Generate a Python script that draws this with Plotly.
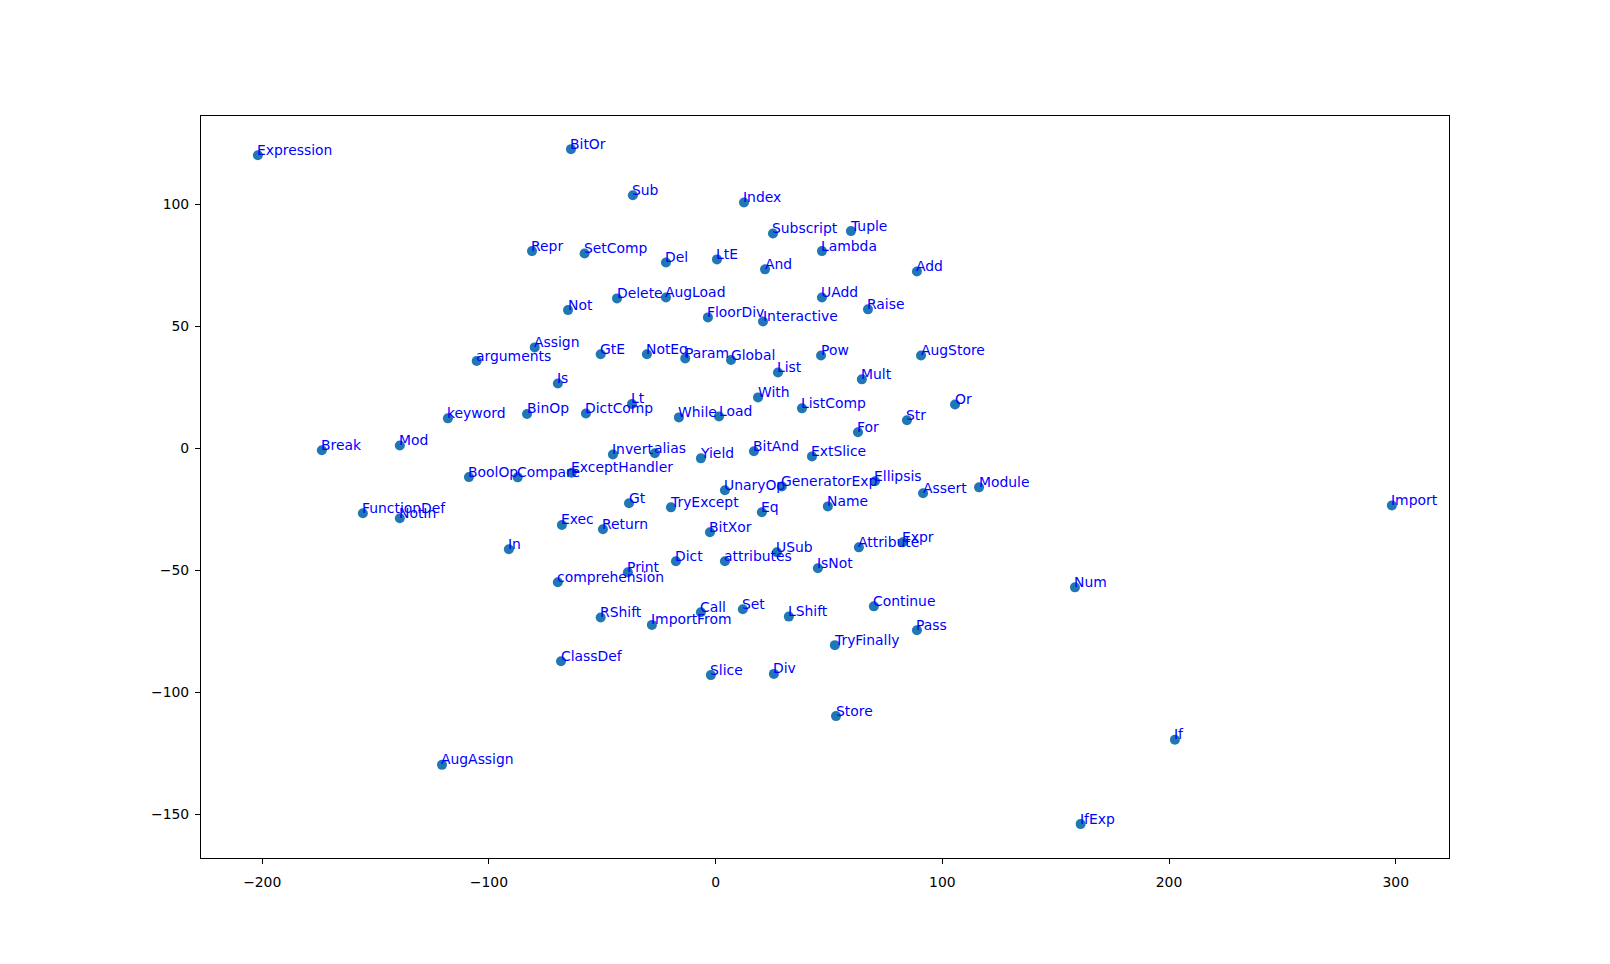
import plotly.graph_objects as go

labels = ["Expression", "BitOr", "Repr", "SetComp", "Delete", "Not", "Assign", "GtE", "arguments",
          "Sub", "Index", "Subscript", "Tuple", "Lambda", "Del", "LtE", "And", "Add", "AugLoad",
          "UAdd", "Raise", "FloorDiv", "Interactive", "NotEq", "Param", "Global", "Pow", "AugStore",
          "List", "Mult", "With", "Lt", "ListComp", "While", "Load", "Or", "Str", "For", "Invert",
          "alias", "Yield", "BitAnd", "ExtSlice", "UnaryOp", "GeneratorExp", "Ellipsis", "Assert",
          "Module", "Gt", "TryExcept", "Eq", "Name", "BitXor", "Attribute", "Expr", "USub", "Dict",
          "attributes", "IsNot", "Print", "Call", "Set", "LShift", "Continue",
          "Is", "keyword", "BinOp", "DictComp", "Break", "Mod", "BoolOp", "Compare", "ExceptHandler",
          "FunctionDef", "NotIn", "Exec", "Return", "In", "comprehension", "RShift",
          "ClassDef", "AugAssign", "ImportFrom", "Pass", "TryFinally", "Slice", "Div", "Store",
          "Import", "Num", "If", "IfExp"]

x_vals = [-201.9, -63.8, -81.0, -57.8, -43.5, -65.1, -79.8, -50.7, -105.4,
          -36.5, 12.5, 25.3, 59.7, 46.9, -21.9, 0.6, 21.8, 88.8, -21.9,
          46.9, 67.2, -3.4, 20.9, -30.3, -13.4, 6.8, 46.5, 90.6,
          27.5, 64.5, 18.7, -36.9, 38.1, -16.2, 1.5, 105.6, 84.4, 62.8, -45.3,
          -26.8, -6.5, 16.9, 42.5, 4.1, 29.2, 70.3, 91.5,
          116.2, -38.2, -19.7, 20.4, 49.5, -2.5, 63.2, 82.6, 27.0, -17.5,
          4.1, 45.1, -38.7, -6.5, 12.0, 32.3, 69.8,
          -69.6, -118.1, -83.2, -57.2, -173.7, -139.3, -108.8, -87.3, -63.5,
          -155.6, -139.3, -67.8, -49.7, -91.2, -69.6, -50.7,
          -68.2, -120.7, -28.1, 88.8, 52.6, -2.1, 25.7, 53.1,
          298.3, 158.5, 202.6, 161.0]

y_vals = [120.2, 122.7, 80.9, 79.9, 61.5, 56.7, 41.4, 38.6, 35.8,
          103.8, 100.8, 88.1, 89.1, 80.9, 76.2, 77.5, 73.4, 72.5, 61.9,
          61.9, 57.0, 53.7, 52.0, 38.6, 36.9, 36.2, 38.1, 38.1,
          31.1, 28.3, 20.9, 18.2, 16.4, 12.7, 13.1, 18.0, 11.5, 6.6, -2.5,
          -2.0, -4.1, -1.2, -3.3, -17.2, -15.6, -13.5, -18.4,
          -16.0, -22.5, -24.2, -26.2, -23.8, -34.4, -40.6, -38.5, -42.6, -46.3,
          -46.3, -49.2, -50.8, -67.2, -66.0, -69.0, -64.8,
          26.6, 12.3, 14.1, 14.3, -0.8, 1.2, -11.8, -11.9, -10.0,
          -26.6, -28.7, -31.4, -33.2, -41.4, -54.9, -69.4,
          -87.3, -129.8, -72.4, -74.6, -80.7, -93.0, -92.5, -109.8,
          -23.4, -57.0, -119.5, -154.1]

x_ticks = [-200, -100, 0, 100, 200, 300]
y_ticks = [-150, -100, -50, 0, 50, 100]

FONT = "DejaVu Sans"

fig = go.Figure()
fig.add_trace(go.Scatter(
    x=x_vals, y=y_vals, mode="markers",
    marker=dict(color="#1f77b4", size=10, line=dict(width=0)),
    showlegend=False, hoverinfo="text", text=labels,
))

for lab, xv, yv in zip(labels, x_vals, y_vals):
    fig.add_annotation(
        x=xv, y=yv, text=lab, showarrow=False,
        xanchor="left", yanchor="bottom", xshift=-1.5, yshift=-3.5,
        borderpad=0, font=dict(family=FONT, size=13.9, color="#0000ff"),
    )

axis_common = dict(
    showline=True, linecolor="black", linewidth=1.1, mirror=True,
    ticks="outside", ticklen=5, tickwidth=1.1, tickcolor="black",
    showgrid=False, zeroline=False,
    tickfont=dict(family=FONT, size=13.9, color="black"),
)

fig.update_layout(
    width=1610, height=964,
    margin=dict(l=193, r=169, t=108, b=114),
    paper_bgcolor="white", plot_bgcolor="white",
    xaxis=dict(range=[-227.0, 323.5], tickvals=x_ticks, ticklabelstandoff=6, **axis_common),
    yaxis=dict(range=[-168.0, 136.3], tickvals=y_ticks, ticklabelstandoff=3, **axis_common),
    font=dict(family=FONT),
)

fig.write_html("out.html")
